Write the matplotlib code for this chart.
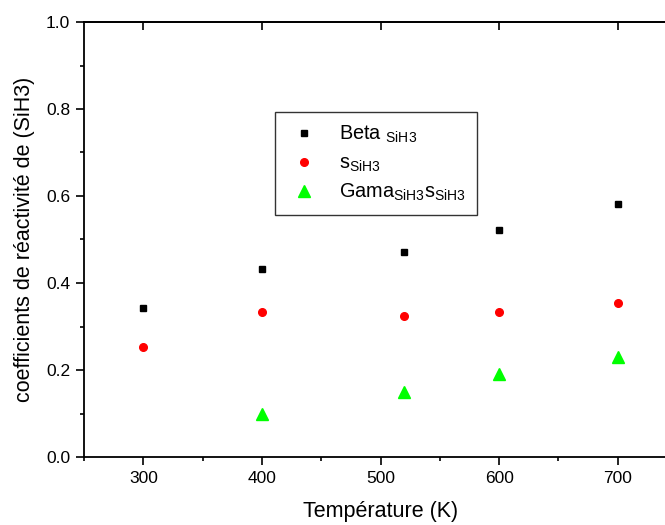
import matplotlib
matplotlib.use("Agg")
import matplotlib.pyplot as plt
from matplotlib.ticker import MultipleLocator, FormatStrFormatter

plt.rcParams['font.family'] = ['Liberation Sans', 'DejaVu Sans']
plt.rcParams['mathtext.fontset'] = 'custom'
plt.rcParams['mathtext.rm'] = 'Liberation Sans'
plt.rcParams['mathtext.it'] = 'Liberation Sans'

# data
temp_beta = [300, 400, 520, 600, 700]
beta_sih3 = [0.343, 0.432, 0.472, 0.522, 0.582]

temp_s = [300, 400, 520, 600, 700]
s_sih3 = [0.253, 0.333, 0.323, 0.333, 0.353]

temp_gama = [400, 520, 600, 700]
gama_s_sih3 = [0.10, 0.15, 0.19, 0.23]

labels = [r'Beta $_{\mathrm{SiH3}}$',
          r's$_{\mathrm{SiH3}}$',
          r'Gama$_{\mathrm{SiH3}}$s$_{\mathrm{SiH3}}$']

fig = plt.figure(figsize=(6.65, 5.25), dpi=100)
# axes run past the right edge of the figure, like the original
ax = fig.add_axes([84 / 665, 68 / 525, 593 / 665, 435 / 525])

ax.plot(temp_beta, beta_sih3, 's', color='black', ms=5, ls='none', label=labels[0])
ax.plot(temp_s, s_sih3, 'o', color='#ff0000', ms=5.5, ls='none', label=labels[1])
ax.plot(temp_gama, gama_s_sih3, '^', color='#00ff00', ms=8, ls='none', label=labels[2])

ax.set_xlim(250, 750)
ax.set_ylim(0.0, 1.0)
ax.xaxis.set_major_locator(MultipleLocator(100))
ax.xaxis.set_minor_locator(MultipleLocator(50))
ax.yaxis.set_major_locator(MultipleLocator(0.2))
ax.yaxis.set_minor_locator(MultipleLocator(0.1))
ax.yaxis.set_major_formatter(FormatStrFormatter('%.1f'))

ax.tick_params(which='both', direction='out', labelsize=12.5, width=1.2, pad=4)
ax.tick_params(which='major', length=6)
ax.tick_params(which='minor', length=3)
for sp in ax.spines.values():
    sp.set_linewidth(1.3)

# inward ticks on the top axis
top = ax.secondary_xaxis('top')
top.set_xticks([300, 400, 500, 600, 700])
top.tick_params(which='major', direction='in', labeltop=False, width=1.2, length=6)
top.spines['top'].set_linewidth(1.3)

ax.set_xlabel('Température (K)', fontsize=15.5, labelpad=11)
ax.set_ylabel('coefficients de réactivité de (SiH3)', fontsize=15.5, labelpad=8)

leg = ax.legend(loc='upper left', bbox_to_anchor=(275 / 665, 1 - 112 / 525),
                bbox_transform=fig.transFigure, fontsize=14.3, frameon=True,
                fancybox=False, edgecolor='black', borderpad=0.6,
                handlelength=1.7, handletextpad=0.9, labelspacing=0.42,
                borderaxespad=0)
leg.get_frame().set_linewidth(1.0)

fig.savefig('out.png', dpi=100)
